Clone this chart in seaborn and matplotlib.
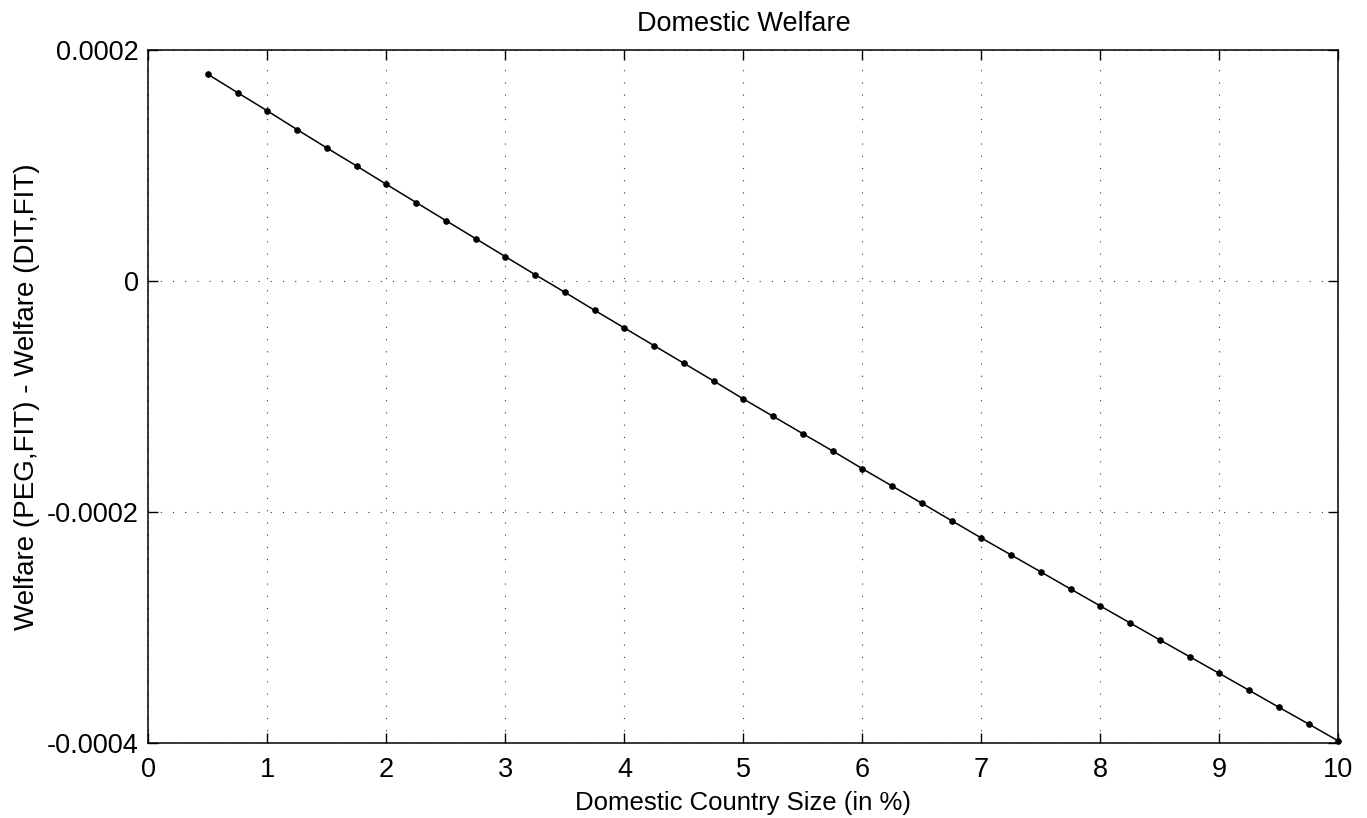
import numpy as np
import pandas as pd
import matplotlib
matplotlib.use('Agg')
import matplotlib.pyplot as plt
import seaborn as sns

# country size (in %) and welfare difference PEG,FIT minus DIT,FIT
country_size = [0.5, 0.75, 1.0, 1.25, 1.5, 1.75, 2.0, 2.25, 2.5, 2.75,
                3.0, 3.25, 3.5, 3.75, 4.0, 4.25, 4.5, 4.75, 5.0, 5.25,
                5.5, 5.75, 6.0, 6.25, 6.5, 6.75, 7.0, 7.25, 7.5, 7.75,
                8.0, 8.25, 8.5, 8.75, 9.0, 9.25, 9.5, 9.75, 10.0]
welfare_diff = [1.789, 1.630, 1.472, 1.310, 1.151, 0.995, 0.836, 0.679, 0.522, 0.366,
                0.210, 0.054, -0.099, -0.255, -0.408, -0.561, -0.714, -0.867, -1.023, -1.173,
                -1.324, -1.473, -1.627, -1.777, -1.926, -2.077, -2.227, -2.374, -2.521, -2.669,
                -2.816, -2.963, -3.110, -3.255, -3.400, -3.546, -3.693, -3.838, -3.985]
welfare_diff = [v * 1e-4 for v in welfare_diff]

x_ticks = [0, 1, 2, 3, 4, 5, 6, 7, 8, 9, 10]
y_ticks = [-0.0004, -0.0002, 0, 0.0002]
y_ticklabels = ['-0.0004', '-0.0002', '0', '0.0002']

df = pd.DataFrame({'size': country_size, 'welfare': welfare_diff})

sns.set_style('ticks')
plt.rcParams['font.family'] = ['Liberation Sans', 'DejaVu Sans']
plt.rcParams['text.color'] = 'black'
plt.rcParams['axes.labelcolor'] = 'black'
fs = 19.5

fig = plt.figure(figsize=(13.67, 8.18), dpi=100)
ax = fig.add_axes([0.1086, 0.092, 0.8705, 0.8469])

sns.lineplot(data=df, x='size', y='welfare', ax=ax, color='black', linewidth=1.1,
             marker='o', markersize=4, markeredgecolor='black', markerfacecolor='black',
             clip_on=False)

ax.set_xlim(0, 10)
ax.set_ylim(-0.0004, 0.0002)
ax.set_xticks(x_ticks)
ax.set_xticklabels([str(t) for t in x_ticks])
ax.set_yticks(y_ticks)
ax.set_yticklabels(y_ticklabels)

ax.grid(True, color='#333333', linestyle=(0, (1, 10)), linewidth=0.8)
ax.tick_params(direction='in', length=7, width=1, top=True, right=True,
               labelsize=fs, colors='black')
ax.tick_params(axis='y', pad=7)
ax.tick_params(axis='x', pad=10)
for sp in ax.spines.values():
    sp.set_visible(True)
    sp.set_color('black')
    sp.set_linewidth(1.1)

ax.set_title('Domestic Welfare', fontsize=fs, pad=14, color='black')
ax.set_xlabel('Domestic Country Size (in %)', fontsize=18.5, labelpad=6)
ax.set_ylabel('Welfare (PEG,FIT) - Welfare (DIT,FIT)', fontsize=20, labelpad=5)

fig.savefig('out.png', dpi=100)
